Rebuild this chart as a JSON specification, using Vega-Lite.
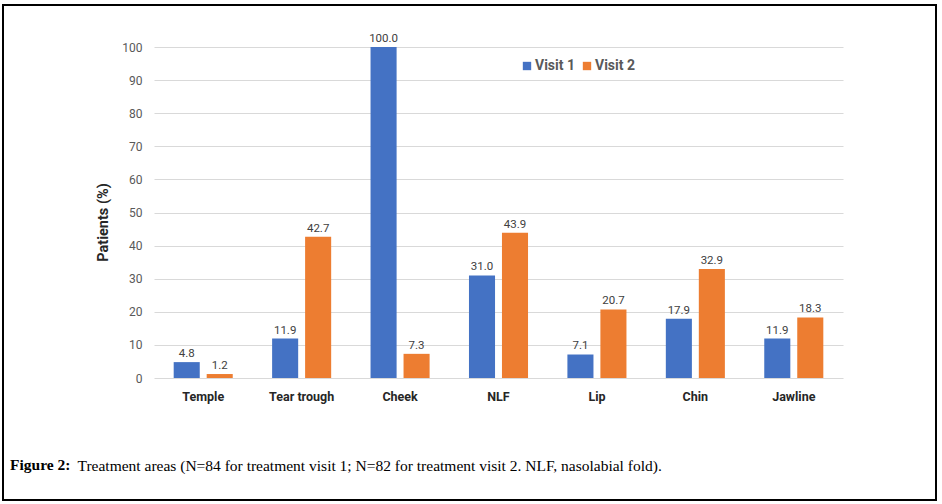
{
  "$schema": "https://vega.github.io/schema/vega-lite/v6.json",
  "width": 933,
  "height": 495,
  "autosize": {"type": "none"},
  "padding": {"left": 3, "top": 5, "right": 6, "bottom": 4},
  "background": "white",
  "config": {
    "view": {"stroke": "black", "strokeWidth": 2, "fill": "white"},
    "font": "Roboto"
  },
  "data": {
    "values": [
      {"area": "Temple", "visit": "Visit 1", "pct": 4.8},
      {"area": "Temple", "visit": "Visit 2", "pct": 1.2},
      {"area": "Tear trough", "visit": "Visit 1", "pct": 11.9},
      {"area": "Tear trough", "visit": "Visit 2", "pct": 42.7},
      {"area": "Cheek", "visit": "Visit 1", "pct": 100.0},
      {"area": "Cheek", "visit": "Visit 2", "pct": 7.3},
      {"area": "NLF", "visit": "Visit 1", "pct": 31.0},
      {"area": "NLF", "visit": "Visit 2", "pct": 43.9},
      {"area": "Lip", "visit": "Visit 1", "pct": 7.1},
      {"area": "Lip", "visit": "Visit 2", "pct": 20.7},
      {"area": "Chin", "visit": "Visit 1", "pct": 17.9},
      {"area": "Chin", "visit": "Visit 2", "pct": 32.9},
      {"area": "Jawline", "visit": "Visit 1", "pct": 11.9},
      {"area": "Jawline", "visit": "Visit 2", "pct": 18.3}
    ]
  },
  "title": {
    "text": "Figure 2:",
    "orient": "bottom",
    "anchor": "start",
    "frame": "group",
    "offset": -42,
    "dx": 7,
    "font": "Liberation Serif",
    "fontSize": 15.5,
    "fontWeight": "bold",
    "color": "black",
    "baseline": "top"
  },
  "encoding": {
    "x": {
      "field": "area",
      "type": "nominal",
      "sort": ["Temple", "Tear trough", "Cheek", "NLF", "Lip", "Chin", "Jawline"],
      "scale": {"range": [151, 840], "paddingInner": 0.4, "paddingOuter": 0.2},
      "axis": {
        "offset": -122,
        "labelAngle": 0,
        "labelPadding": 12,
        "labelFont": "Roboto",
        "labelFontSize": 12.5,
        "labelFontWeight": "bold",
        "labelColor": "#262626",
        "ticks": false,
        "domain": false,
        "grid": false,
        "title": "Treatment areas (N=84 for treatment visit 1; N=82 for treatment visit 2. NLF, nasolabial fold).",
        "titleX": 74,
        "titleY": 80,
        "titleAlign": "left",
        "titleBaseline": "top",
        "titleFont": "Liberation Serif",
        "titleFontSize": 15.5,
        "titleFontWeight": "normal",
        "titleColor": "black"
      }
    },
    "xOffset": {
      "field": "visit",
      "type": "nominal",
      "sort": ["Visit 1", "Visit 2"],
      "scale": {"paddingInner": 0.21, "paddingOuter": 0}
    },
    "y": {
      "field": "pct",
      "type": "quantitative",
      "scale": {"domain": [0, 100], "range": [373, 42], "nice": false},
      "axis": {
        "offset": -151,
        "values": [0, 10, 20, 30, 40, 50, 60, 70, 80, 90, 100],
        "grid": true,
        "gridColor": "#d9d9d9",
        "gridWidth": 1,
        "domain": false,
        "ticks": false,
        "labelPadding": 12,
        "labelFont": "Roboto",
        "labelFontSize": 12,
        "labelColor": "#595959",
        "title": "Patients (%)",
        "titleX": -51,
        "titleY": 217,
        "titleAngle": -90,
        "titleAlign": "center",
        "titleBaseline": "middle",
        "titleFont": "Roboto",
        "titleFontSize": 14.5,
        "titleFontWeight": "bold",
        "titleColor": "#262626"
      }
    }
  },
  "layer": [
    {
      "mark": {"type": "bar"},
      "encoding": {
        "color": {
          "field": "visit",
          "type": "nominal",
          "scale": {"domain": ["Visit 1", "Visit 2"], "range": ["#4472C4", "#ED7D31"]},
          "legend": {
            "orient": "none",
            "legendX": 517,
            "legendY": 54,
            "direction": "horizontal",
            "title": null,
            "symbolType": "square",
            "symbolSize": 70,
            "symbolStrokeWidth": 0,
            "labelFont": "Roboto",
            "labelFontSize": 14,
            "labelFontWeight": "bold",
            "labelColor": "#595959",
            "labelOffset": 1,
            "columnPadding": 5
          }
        }
      }
    },
    {
      "mark": {"type": "text", "baseline": "alphabetic", "dy": -5, "fontSize": 11.5, "font": "Roboto", "color": "#404040"},
      "encoding": {
        "text": {"field": "pct", "type": "quantitative", "format": ".1f"}
      }
    }
  ]
}
